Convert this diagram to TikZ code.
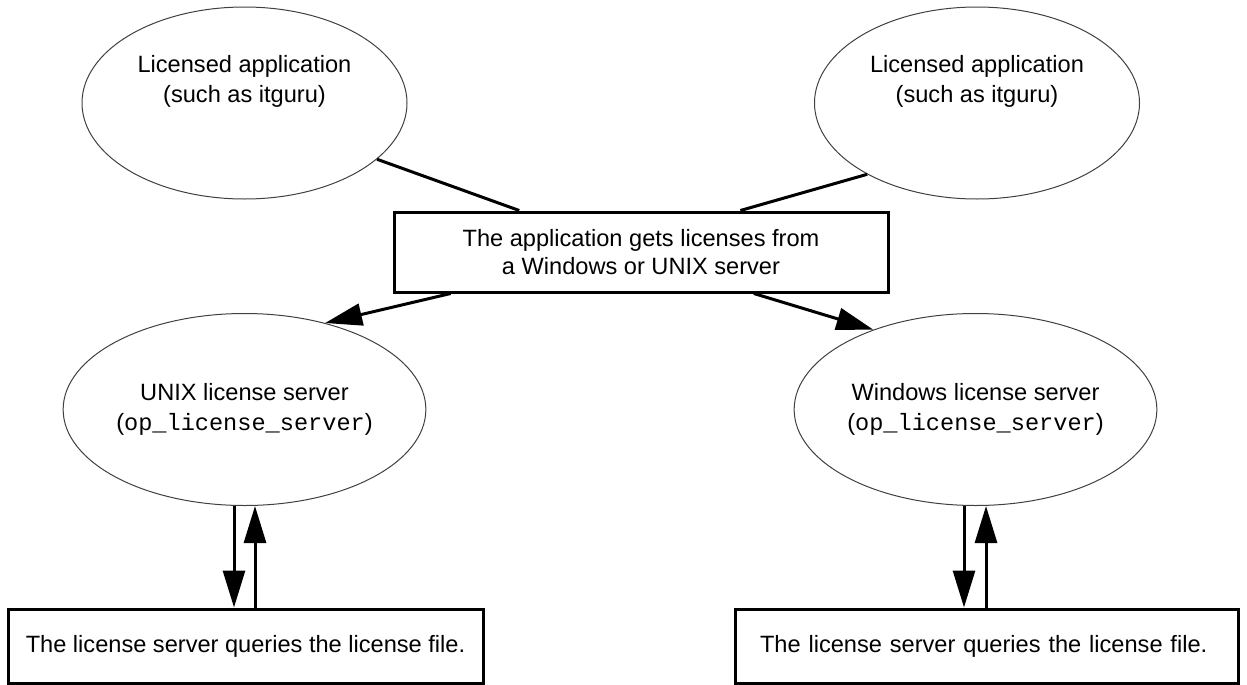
\documentclass[tikz,border=0pt]{standalone}
\usepackage{fontspec}
\setmainfont{Liberation Sans}
\newfontfamily\monofnt{Liberation Mono}
\usetikzlibrary{shapes.geometric,arrows.meta,calc}
\begin{document}
\begin{tikzpicture}[x=0.5pt,y=-0.5pt,
  every node/.style={font=\fontsize{11.8}{15}\selectfont},
  oval/.style={ellipse,draw=black!75,line width=0.5pt,minimum width=162.5pt,minimum height=96pt,inner sep=0pt,align=center},
  box/.style={rectangle,draw,line width=1.5pt,inner sep=0pt,align=center},
  conn/.style={line width=1.5pt},
  arr/.style={line width=1.5pt,-{Triangle[length=18.5pt,width=11pt]}}]
\useasboundingbox (0,0) rectangle (1247,685);
% top ellipses
\node[oval,label={[yshift=11pt,align=center]center:Licensed application\\(such as itguru)}] (tl) at (244.5,103) {};
\node[oval,label={[yshift=11pt,align=center]center:Licensed application\\(such as itguru)}] (tr) at (977,103) {};
% middle box
\node[box,minimum width=247pt,minimum height=40pt,font=\fontsize{11.8}{14.2}\selectfont] (mid) at (641,252) {The application gets licenses from\\a Windows or UNIX server};
% bottom ellipses
\node[oval] (bl) at (244.5,409.5) {UNIX license server\\({\monofnt op\_license\_server})};
\node[oval] (br) at (975.5,409.5) {Windows license server\\({\monofnt op\_license\_server})};
% bottom boxes
\node[box,minimum width=237.5pt,minimum height=37pt] (lb) at (245.5,646) {The license server queries the license file.};
\node[box,minimum width=251.5pt,minimum height=37pt,text width=226.5pt,align=left] (rb) at (986.5,646) {The license server queries the license file.};
% connectors
\draw[conn] (tl.-23.6) -- ($(mid.north west)!0.255!(mid.north east)$);
\draw[conn] (tr.-147.3) -- ($(mid.north west)!0.70!(mid.north east)$);
\draw[arr] ($(mid.south west)!0.117!(mid.south east)$) -- (bl.47);
\draw[arr] ($(mid.south west)!0.727!(mid.south east)$) -- (br.142.5);
\coordinate (bld) at ($(bl.south)+(-10.5,0)$);
\coordinate (blu) at ($(bl.south)+(10.5,0)$);
\coordinate (brd) at ($(br.south)+(-11.5,0)$);
\coordinate (bru) at ($(br.south)+(10.5,0)$);
\draw[arr] (bld) -- (bld |- lb.north);
\draw[arr] (blu |- lb.north) -- (blu);
\draw[arr] (brd) -- (brd |- rb.north);
\draw[arr] (bru |- rb.north) -- (bru);
\end{tikzpicture}
\end{document}
